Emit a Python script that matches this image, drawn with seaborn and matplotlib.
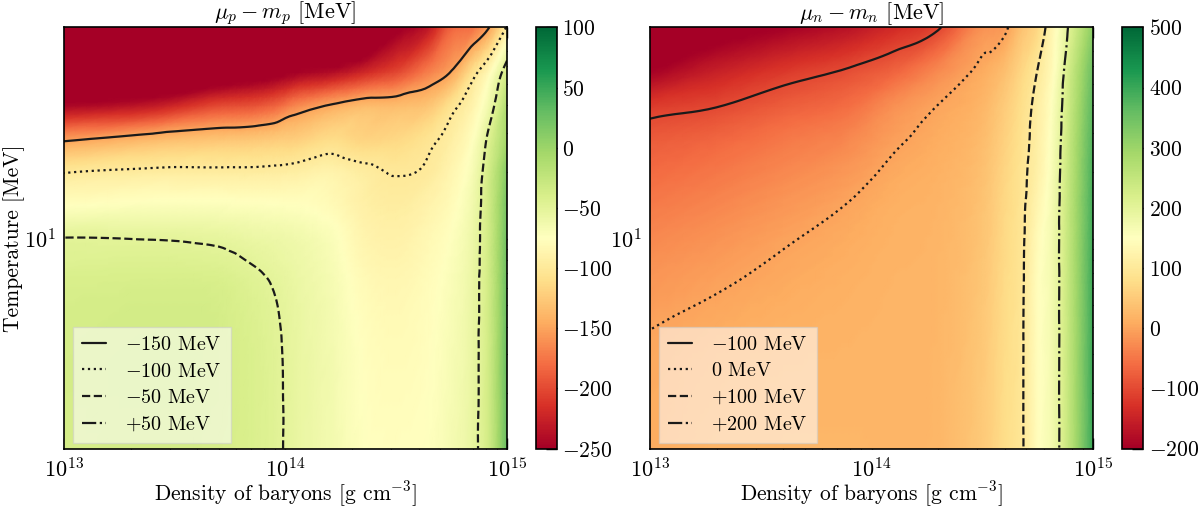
import numpy as np
import matplotlib
matplotlib.use("Agg")
import matplotlib.pyplot as plt
import matplotlib.tri as mtri
import seaborn as sns
from matplotlib.lines import Line2D
from matplotlib.ticker import FixedLocator, FuncFormatter, NullFormatter

sns.set_theme(style="ticks")
plt.rcParams.update({
    "font.family": ["cmr10", "DejaVu Serif"],
    "mathtext.fontset": "cm",
    "axes.formatter.use_mathtext": True,
    "font.size": 16,
    "axes.titlesize": 16,
    "axes.labelsize": 15.5,
    "xtick.labelsize": 16,
    "ytick.labelsize": 16,
    "text.color": "black",
    "axes.labelcolor": "black",
    "axes.edgecolor": "black",
    "axes.linewidth": 1.2,
    "xtick.color": "black",
    "ytick.color": "black",
    "xtick.direction": "in",
    "ytick.direction": "in",
    "xtick.top": True,
    "ytick.right": True,
    "xtick.major.size": 8,
    "ytick.major.size": 8,
    "xtick.minor.size": 4,
    "ytick.minor.size": 4,
    "xtick.major.width": 1.0,
    "ytick.major.width": 1.0,
    "xtick.minor.width": 0.8,
    "ytick.minor.width": 0.8,
    "xtick.major.pad": 6,
    "ytick.major.pad": 6,
})

# ---- data (log10 of density in g/cm^3, log10 of temperature in MeV) ----
log_rho_p = [13.0, 13.4, 13.7, 13.85, 13.95, 14.05, 14.2, 14.35, 14.5, 14.65, 14.75, 14.85, 14.92, 15.0]
log_T_p = [0.052, 0.5, 0.8, 0.9, 1.0, 1.15, 1.3, 1.45, 1.6, 1.75, 1.953]
# mu_p - m_p [MeV], one row per temperature
mu_p = [
    [-38, -36, -38, -42, -47, -55, -64, -74, -76, -74, -66, -54, -33, 28],
    [-37, -35, -37, -42, -47.5, -55, -64, -76, -80, -76, -68, -55, -33, 28],
    [-40, -39, -40, -46, -51, -57, -66, -80, -84, -78, -70, -56, -33, 26],
    [-45, -44, -46, -51, -55, -59, -68, -83, -87, -80, -72, -57, -33, 25],
    [-49.5, -50.5, -53, -57, -59, -62, -70, -86, -90, -82, -74, -58, -33, 24],
    [-76, -72, -72, -73, -74, -75, -80, -91, -95, -88, -79, -61, -33, 20],
    [-101, -96, -96, -96, -95, -93, -88, -95, -101, -97, -85, -66, -35, 12],
    [-155, -138, -130, -128, -125, -122, -112, -118, -115, -104, -93, -74, -44, -5],
    [-245, -230, -200, -195, -185, -165, -148, -136, -135, -128, -106, -86, -62, -14],
    [-300, -295, -280, -270, -262, -250, -240, -220, -200, -168, -148, -106, -80, -37],
    [-330, -330, -330, -330, -330, -330, -330, -320, -260, -230, -185, -175, -150, -97],
]
levels_p = [-150, -100, -50, 50]
labels_p = [r"$-150$ MeV", r"$-100$ MeV", r"$-50$ MeV", r"$+50$ MeV"]

log_rho_n = [13.0, 13.3, 13.6, 13.9, 14.1, 14.3, 14.5, 14.6, 14.68, 14.75, 14.82, 14.9, 15.0]
log_T_n = [0.052, 0.5, 0.8, 1.0, 1.15, 1.3, 1.45, 1.6, 1.75, 1.953]
# mu_n - m_n [MeV], one row per temperature
mu_n = [
    [10, 20, 22, 22, 21, 24, 50, 78, 97, 145, 175, 262, 400],
    [4, 12, 17, 19, 20, 23, 48, 76, 97, 145, 175, 262, 400],
    [-14, -3, 7, 15, 19, 22, 45, 74, 96, 145, 175, 262, 398],
    [-30, -18, -3, 9, 17, 21, 42, 72, 95, 140, 175, 262, 396],
    [-45, -32, -15, 1.3, 14, 19, 40, 70, 94, 130, 172, 262, 393],
    [-62, -48, -30, -12, 6, 16, 36, 66, 92, 120, 168, 259, 388],
    [-80, -68, -48, -30, -5.5, 10, 30, 60, 88, 116, 163, 255, 380],
    [-118, -102, -78, -58, -22, 0.5, 22, 52, 82, 113, 157, 248, 370],
    [-195, -150, -118, -93, -68, -27, 10, 35, 70, 102, 145, 240, 355],
    [-260, -230, -200, -170, -138, -105, -20, -8, 40, 70, 134, 214, 320],
]
levels_n = [-100, 0, 100, 200]
labels_n = [r"$-100$ MeV", r"$0$ MeV", r"$+100$ MeV", r"$+200$ MeV"]

line_styles = ["-", ":", "--", "-."]
cmap = sns.color_palette("RdYlGn", as_cmap=True)


def log_ticks(ax, x_range, y_range):
    ax.xaxis.set_major_locator(FixedLocator([13, 14, 15]))
    ax.xaxis.set_minor_locator(FixedLocator(
        [n + np.log10(k) for n in (13, 14) for k in range(2, 10)]))
    ax.yaxis.set_major_locator(FixedLocator([1]))
    ax.yaxis.set_minor_locator(FixedLocator(
        [n + np.log10(k) for n in (0, 1) for k in range(2, 10)
         if y_range[0] < n + np.log10(k) < y_range[1]]))
    fmt = FuncFormatter(lambda v, pos: r"$\mathdefault{10^{%d}}$" % round(v))
    ax.xaxis.set_major_formatter(fmt)
    ax.yaxis.set_major_formatter(fmt)
    ax.xaxis.set_minor_formatter(NullFormatter())
    ax.yaxis.set_minor_formatter(NullFormatter())
    ax.set_xlim(*x_range)
    ax.set_ylim(*y_range)


def grid_triangulation(xs, ys):
    X, Y = np.meshgrid(xs, ys)
    nx, ny = len(xs), len(ys)
    tris = []
    for i in range(ny - 1):
        for j in range(nx - 1):
            k = i * nx + j
            tris.append([k, k + 1, k + nx + 1])
            tris.append([k, k + nx + 1, k + nx])
    return mtri.Triangulation(X.ravel(), Y.ravel(), tris)


def panel(ax, cax, log_rho, log_T, values, vmin, vmax, cticks, levels, labels, title):
    Z = np.array(values, dtype=float).ravel()
    # smooth the tabulated grid with matplotlib's own cubic refiner
    tri = grid_triangulation(log_rho, log_T)
    interp = mtri.CubicTriInterpolator(tri, Z, kind="geom")
    tri_f, z_f = mtri.UniformTriRefiner(tri).refine_field(Z, triinterpolator=interp, subdiv=3)
    mesh = ax.tripcolor(tri_f, z_f, shading="gouraud", cmap=cmap, vmin=vmin, vmax=vmax)
    ax.tricontour(tri_f, z_f, levels=levels, colors="k", linestyles=line_styles,
                  linewidths=1.6)
    log_ticks(ax, (log_rho[0], log_rho[-1]), (log_T[0], log_T[-1]))
    ax.set_title(title, pad=5)
    ax.set_xlabel(r"Density of baryons [g cm$^{-3}$]")
    ax.xaxis.set_label_coords(0.5, -0.073)

    handles = [Line2D([], [], color="k", ls=s, lw=1.6) for s in line_styles]
    leg = ax.legend(handles, labels, loc="lower left", bbox_to_anchor=(0.02, 0.014),
                    borderaxespad=0, fontsize=14.5, handlelength=1.2,
                    handletextpad=0.95, labelspacing=0.4, borderpad=0.45,
                    fancybox=False, framealpha=0.55, edgecolor="#cccccc")
    leg.get_frame().set_linewidth(1.0)

    cb = plt.colorbar(mesh, cax=cax, ticks=cticks)
    cb.outline.set_linewidth(1.2)
    cax.tick_params(direction="in", length=8, width=1.0, right=True, left=False,
                    labelsize=15.5, pad=4)
    return mesh


fig = plt.figure(figsize=(12, 5.13), dpi=100)
ax_p = fig.add_axes([0.0533, 0.1257, 0.3692, 0.8207])
cax_p = fig.add_axes([0.4464, 0.1257, 0.0175, 0.8207])
ax_n = fig.add_axes([0.5417, 0.1257, 0.3692, 0.8207])
cax_n = fig.add_axes([0.9350, 0.1257, 0.0178, 0.8207])

panel(ax_p, cax_p, log_rho_p, log_T_p, mu_p, -250, 100, list(range(-250, 101, 50)),
      levels_p, labels_p, r"$\mu_p - m_p$ [MeV]")
panel(ax_n, cax_n, log_rho_n, log_T_n, mu_n, -200, 500, list(range(-200, 501, 100)),
      levels_n, labels_n, r"$\mu_n - m_n$ [MeV]")
ax_p.set_ylabel("Temperature [MeV]")
ax_p.yaxis.set_label_coords(-0.088, 0.5)

fig.savefig("out.png", dpi=100)
